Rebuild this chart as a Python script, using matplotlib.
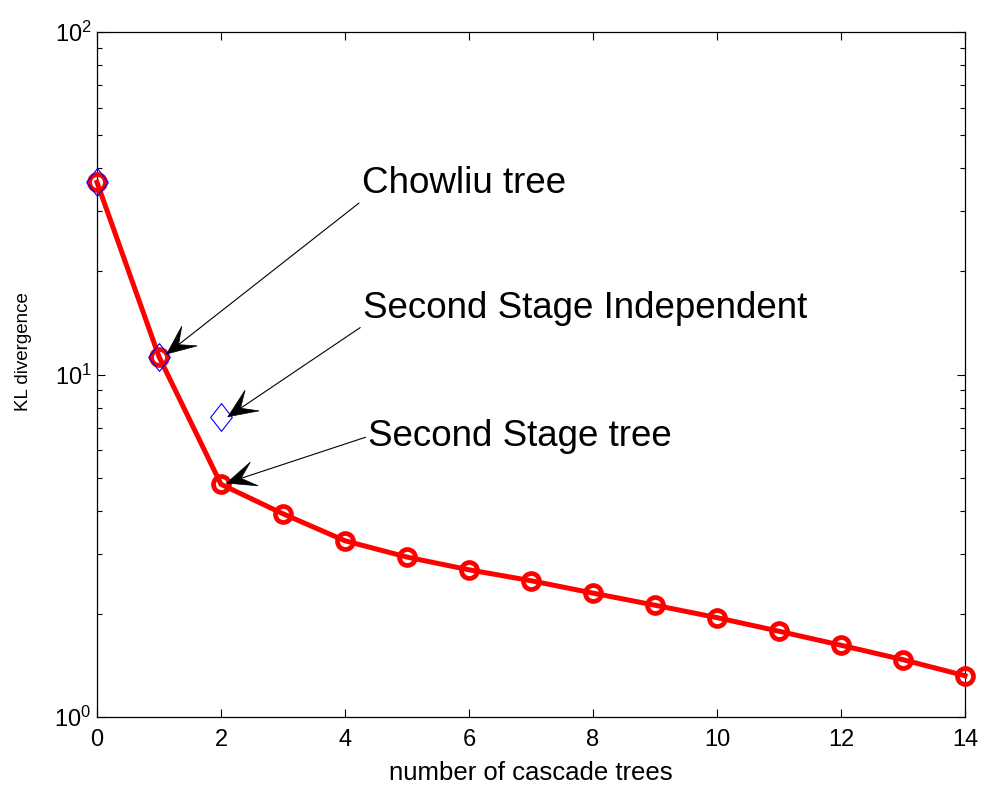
import numpy as np
import matplotlib
matplotlib.use('Agg')
import matplotlib.pyplot as plt
from matplotlib.patches import Polygon
from matplotlib.text import Text
from matplotlib.transforms import IdentityTransform

plt.rcParams['font.family'] = ['Liberation Sans', 'DejaVu Sans']

##################
## data

n_trees = [0, 1, 2, 3, 4, 5, 6, 7, 8, 9, 10, 11, 12, 13, 14]
kl_cascade = [36.4, 11.27, 4.78, 3.92, 3.27, 2.93, 2.69, 2.50, 2.30, 2.12, 1.95, 1.78, 1.62, 1.47, 1.32]

n_indep = [0, 1, 2]
kl_indep = [36.4, 11.27, 7.53]

labels = ['Chowliu tree', 'Second Stage Independent', 'Second Stage tree']
arrow_tips = [(1.124, 11.48), (2.113, 7.53), (2.092, 4.82)]
text_pos = [(4.27, 33.9), (4.29, 14.65), (4.375, 6.19)]
rel_pos = [(0, 0), (0, 0), (0, 0.5)]

##################
## plot

fig = plt.figure(figsize=(9.87, 7.90), dpi=100)
ax = fig.add_axes([97/987, 1 - 717/790, 868/987, 685/790])

ax.plot(n_trees, kl_cascade, color='red', lw=3.6, marker='o', ms=11.5,
        mew=3.4, mfc='none', mec='red', zorder=3, clip_on=False)

diamond = [(0, 1), (0.78, 0), (0, -1), (-0.78, 0), (0, 1)]
ax.plot(n_indep, kl_indep, ls='none', marker=diamond, ms=20, mew=0.8,
        mfc='none', mec='blue', zorder=4, clip_on=False)

ax.set_yscale('log')
ax.set_xlim(0, 14)
ax.set_ylim(1, 100)
ax.set_xticks(range(0, 15, 2))

ax.tick_params(which='both', direction='in', top=True, right=True, width=0.8)
ax.tick_params(which='major', length=6, labelsize=17)
ax.tick_params(which='minor', length=3.5)
ax.tick_params(axis='x', pad=9)
ax.tick_params(axis='y', pad=4)
for sp in ax.spines.values():
    sp.set_linewidth(0.9)

ax.set_xlabel('number of cascade trees', fontsize=18.5, labelpad=7)
ax.set_ylabel('KL divergence', fontsize=13.5)
ax.yaxis.set_label_coords(-0.075, 0.533)

anns = []
for lab, tip, pos, rp in zip(labels, arrow_tips, text_pos, rel_pos):
    a = ax.annotate(lab, xy=tip, xytext=pos, fontsize=26.5, va='baseline', ha='left',
                    arrowprops=dict(arrowstyle='-', color='black', lw=0.8,
                                    shrinkA=0, shrinkB=0, relpos=rp))
    anns.append(a)

# matlab style arrow heads (swept back), drawn in pixels
fig.canvas.draw()
head_len = 29
head_w = 12.5
for a, tip, rp in zip(anns, arrow_tips, rel_pos):
    bb = Text.get_window_extent(a)
    tail = np.array([bb.x0 + rp[0] * bb.width, bb.y0 + rp[1] * bb.height])
    t = ax.transData.transform(tip)
    u = (tail - t) / np.hypot(*(tail - t))
    n = np.array([-u[1], u[0]])
    pts = [t, t + u * head_len + n * head_w, t + u * head_len * 0.52,
           t + u * head_len - n * head_w]
    ax.add_patch(Polygon(pts, closed=True, facecolor='black', edgecolor='black',
                         lw=0.5, transform=IdentityTransform(), clip_on=False, zorder=6))

plt.savefig('out.png', dpi=100)
